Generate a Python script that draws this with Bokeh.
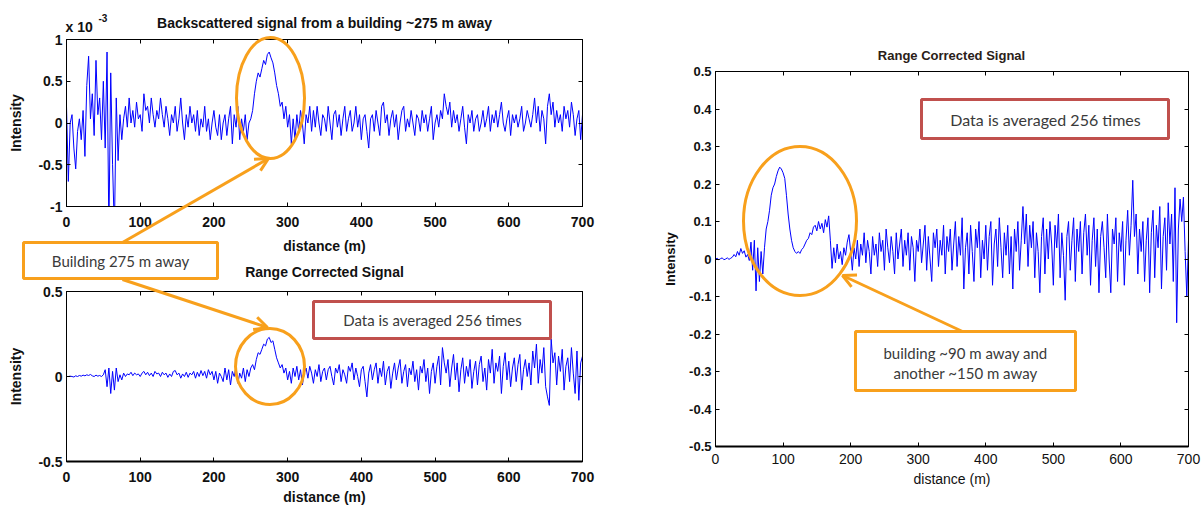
import numpy as np
from bokeh.plotting import figure
from bokeh.models import Range1d, FixedTicker, LinearAxis, Label, BoxAnnotation, Arrow, OpenHead
from bokeh.layouts import row, column
from bokeh.embed import file_html
from bokeh.resources import INLINE

# ---------------- data ----------------
DIST_TICKS = [0, 100, 200, 300, 400, 500, 600, 700]
DIST_TICK_LABELS = ["0", "100", "200", "300", "400", "500", "600", "700"]

BACK_YTICKS = [-1, -0.5, 0, 0.5, 1]
BACK_YTICK_LABELS = ["-1", "-0.5", "0", "0.5", "1"]

RC_YTICKS = [-0.5, 0, 0.5]
RC_YTICK_LABELS = ["-0.5", "0", "0.5"]

RC90_YTICKS = [-0.5, -0.4, -0.3, -0.2, -0.1, 0, 0.1, 0.2, 0.3, 0.4, 0.5]
RC90_YTICK_LABELS = ["-0.5", "-0.4", "-0.3", "-0.2", "-0.1", "0", "0.1", "0.2", "0.3", "0.4", "0.5"]

TITLE_BACKSCATTER = "Backscattered signal from a building ~275 m away"
TITLE_RANGE = "Range Corrected Signal"

# backscattered signal, building ~275 m (units of 1e-3), one sample every 2.5 m from 0 to 700 m
backscatter_e3 = [
    0.2, -0.7, 0.0, 0.1, -0.3, -0.55, -0.1, 0.05, -0.2,
    0.15, -0.4, 0.45, 0.8, 0.05, 0.35, -0.15, 0.75, 0.1, 0.3, -0.2, 0.5, -0.3, 0.85, -1.3, 0.6, -0.5, -1.3, 0.3, -0.45,
    0.1, -0.2, 0.05, 0.2, -0.05, 0.3, 0.0, 0.15, -0.05, 0.25,
    0.05, 0.1, -0.1, 0.35, 0.15, 0.2, 0.0, 0.3, 0.1, -0.05,
    0.15, 0.05, 0.3, 0.1, -0.05, 0.2, 0.05, -0.15, 0.1, 0.0,
    0.2, -0.1, 0.05, 0.3, 0.0, -0.2, 0.1, -0.05, 0.2, 0.0,
    0.1, -0.1, 0.15, -0.15, 0.05, -0.05, 0.2, -0.1, 0.05, -0.2,
    0.0, 0.15, -0.05, -0.15, 0.1, -0.2, 0.0, 0.1, -0.15, 0.05,
    0.2, -0.25, 0.1, -0.05, 0.2, -0.2, 0.05, -0.1, 0.1, -0.2,
    0.0, 0.05, 0.15, 0.35, 0.5, 0.6, 0.55, 0.65, 0.75, 0.7,
    0.82, 0.85, 0.78, 0.72, 0.6, 0.45, 0.35, 0.2, 0.25, 0.05,
    0.2, -0.05, 0.1, -0.25, 0.05, -0.2, 0.1, -0.1, 0.15, 0.0,
    -0.25, 0.1, 0.0, 0.2, -0.1, 0.15, -0.05, 0.2, 0.0, -0.15,
    0.1, 0.05, -0.1, 0.2, 0.0, -0.2, 0.1, 0.15, -0.05, 0.1,
    -0.15, 0.05, 0.2, -0.1, 0.05, 0.15, -0.1, 0.0, 0.2, -0.05,
    0.1, -0.2, 0.05, 0.1, -0.1, -0.3, 0.05, 0.1, -0.1, 0.15,
    0.0, -0.15, 0.2, 0.25, 0.0, 0.1, -0.15, 0.05, 0.15, -0.05,
    0.1, -0.2, 0.0, 0.15, 0.2, -0.1, 0.05, -0.05, 0.15, 0.0,
    -0.15, 0.1, 0.05, -0.1, 0.15, 0.0, 0.1, -0.1, 0.05, 0.2,
    -0.2, 0.0, 0.1, -0.05, 0.15, 0.05, 0.35, 0.2, 0.1, 0.25,
    -0.05, 0.15, 0.0, 0.1, -0.1, 0.05, 0.2, -0.05, -0.25, 0.1,
    0.0, 0.15, -0.1, 0.05, 0.1, -0.1, 0.0, 0.15, -0.05, 0.05,
    0.2, -0.1, 0.1, 0.0, 0.15, -0.05, 0.1, 0.25, 0.0, -0.1,
    0.05, 0.15, -0.15, 0.1, 0.0, 0.1, -0.05, 0.05, 0.2, -0.1,
    0.0, 0.15, 0.05, -0.05, 0.1, 0.3, 0.0, 0.2, -0.1, 0.15,
    0.05, -0.25, 0.2, 0.35, 0.1, 0.25, -0.05, 0.15, 0.0, 0.1,
    -0.1, 0.2, 0.05, 0.15, -0.05, 0.25, 0.1, -0.15, 0.05, 0.15, -0.2, 0.1,
]

# range corrected signal, building ~275 m
range_corrected_275 = [
    0.0, 0.0, 0.002, 0.0, -0.003, 0.004, 0.0, 0.006, 0.002,
    0.008, 0.004, 0.01, 0.006, 0.012, 0.004, 0.0, 0.008, 0.002, 0.006, 0.0, 0.01,
    0.04, -0.06, 0.05, -0.1, 0.03, -0.08, 0.05, -0.03,
    0.01, -0.02, 0.02, 0.0, 0.015, 0.01, 0.025, 0.005, 0.02, 0.01,
    0.015, 0.0, 0.02, 0.03, 0.01, 0.025, 0.005, 0.02, 0.0, 0.03,
    0.015, 0.02, 0.0, 0.025, 0.01, 0.02, -0.005, 0.015, 0.0, 0.03,
    0.035, 0.01, 0.02, -0.01, 0.015, 0.0, 0.025, -0.005, 0.02, 0.01,
    0.03, -0.01, 0.025, 0.0, 0.035, 0.005, 0.03, -0.01, 0.04, 0.01,
    0.03, -0.02, 0.03, -0.04, 0.02, 0.0, -0.03, 0.05, -0.02, 0.04,
    -0.05, 0.03, 0.0, 0.06, -0.04, 0.02, -0.01, 0.05, -0.03, 0.04,
    0.0, 0.05, 0.07, 0.04, 0.1, 0.14, 0.13, 0.16, 0.19, 0.18,
    0.22, 0.23, 0.2, 0.21, 0.16, 0.11, 0.08, 0.05, 0.07, 0.02,
    0.05, -0.02, 0.03, -0.04, 0.05, 0.0, 0.06, -0.02, 0.04, -0.05,
    0.02, 0.05, -0.01, 0.06, 0.02, -0.04, 0.04, 0.0, 0.07, -0.03,
    0.03, 0.05, -0.02, 0.04, 0.06, 0.0, -0.05, 0.05, 0.02, 0.07,
    -0.03, 0.04, 0.01, -0.04, 0.06, 0.03, 0.08, -0.02, 0.05, 0.0,
    -0.06, 0.04, 0.06, -0.03, -0.12, 0.02, 0.07, -0.02, 0.04, 0.08,
    -0.04, 0.05, 0.0, 0.09, -0.05, 0.03, 0.06, -0.07, 0.02, 0.08,
    -0.02, 0.05, 0.1, -0.04, 0.03, 0.07, -0.06, 0.05, 0.01, 0.09,
    -0.03, 0.04, -0.08, 0.06, 0.02, 0.1, -0.03, 0.05, -0.1, 0.03,
    0.08, -0.04, 0.06, 0.12, -0.05, 0.17, 0.08, 0.02, 0.1, -0.06,
    0.05, 0.13, -0.02, 0.08, -0.09, 0.04, 0.11, -0.04, 0.06, 0.0,
    0.1, -0.07, 0.03, 0.09, -0.05, 0.07, 0.12, -0.03, 0.05, -0.08,
    0.1, 0.02, 0.16, -0.04, 0.08, 0.03, 0.12, -0.1, 0.06, 0.14,
    -0.02, 0.09, -0.06, 0.05, 0.11, -0.03, 0.07, 0.13, -0.08, 0.04,
    0.1, 0.0, 0.08, -0.05, 0.15, 0.05, 0.19, -0.04, 0.1, 0.02,
    0.17, -0.06, -0.12, -0.17, 0.22, 0.08, 0.14, -0.05, 0.12, 0.03,
    0.16, -0.08, 0.06, 0.11, -0.03, 0.17, 0.02, -0.1, 0.15, -0.14, 0.08, 0.12,
]

# range corrected signal, buildings ~90 m and ~150 m
range_corrected_90 = [
    0.0, 0.002, -0.002, 0.001, 0.003, -0.002, 0.0, 0.003, -0.001, 0.002, 0.005,
    0.012, 0.006, 0.02, 0.01, 0.028, 0.015, 0.022, 0.005, 0.012, -0.004,
    0.045, -0.03, 0.05, -0.085, 0.03, -0.06, 0.02, -0.04,
    0.03, 0.08, 0.1, 0.13, 0.17, 0.19, 0.2, 0.22, 0.235, 0.245,
    0.24, 0.23, 0.215, 0.17, 0.12, 0.08, 0.05, 0.03, 0.02, 0.015,
    0.02, 0.015, 0.025, 0.03, 0.04, 0.05, 0.055, 0.07, 0.065, 0.085,
    0.09, 0.075, 0.1, 0.08, 0.095, 0.07, 0.105, 0.085, 0.115, 0.05,
    -0.025, 0.03, -0.01, 0.04, 0.0, 0.02, -0.015, 0.03, 0.01, 0.045,
    0.065, 0.02, -0.03, 0.03, 0.0, 0.05, -0.02, 0.04, 0.01, 0.07,
    -0.01, 0.05, 0.02, -0.04, 0.06, 0.01, 0.04, -0.02, 0.07, 0.02,
    0.05, -0.03, 0.08, 0.03, -0.01, 0.06, 0.02, -0.04, 0.07, 0.0,
    0.04, 0.08, -0.02, 0.05, 0.01, 0.07, -0.03, 0.06, 0.03, -0.06,
    0.05, 0.02, 0.08, -0.01, 0.04, 0.09, -0.03, 0.06, 0.0, -0.06,
    0.07, 0.03, 0.08, -0.02, 0.05, 0.01, 0.09, -0.04, 0.06, 0.02,
    0.08, -0.03, 0.04, 0.1, -0.02, 0.06, 0.01, 0.11, -0.08, 0.03,
    0.07, -0.04, 0.09, 0.02, -0.06, 0.08, 0.03, 0.1, -0.05, 0.05,
    0.0, 0.09, -0.03, 0.06, 0.1, -0.07, 0.04, 0.08, -0.02, 0.11,
    0.03, -0.05, 0.07, 0.01, 0.09, -0.04, 0.06, -0.08, 0.08, 0.02,
    0.1, -0.03, 0.05, 0.14, 0.04, 0.12, -0.02, 0.09, 0.03, 0.1,
    -0.05, 0.07, 0.02, -0.09, 0.06, 0.11, -0.04, 0.08, 0.0, 0.1,
    0.04, -0.07, 0.09, 0.03, 0.12, -0.05, 0.07, 0.01, -0.11, 0.06,
    0.1, -0.03, 0.05, 0.11, -0.06, 0.08, 0.02, 0.1, -0.04, 0.07,
    0.12, 0.01, 0.09, -0.07, 0.05, 0.11, -0.02, 0.08, -0.09, 0.06,
    0.1, 0.03, -0.05, 0.12, 0.0, -0.09, 0.08, 0.04, 0.11, -0.06,
    0.07, 0.02, 0.1, -0.07, 0.05, 0.13, 0.01, 0.09, 0.21, 0.06,
    0.12, -0.04, 0.08, 0.02, 0.1, -0.06, 0.05, 0.11, -0.09, 0.07,
    0.13, -0.05, 0.09, 0.03, 0.14, -0.08, 0.06, 0.11, -0.03, 0.15,
    0.04, 0.12, -0.06, 0.19, -0.17, 0.08, 0.16, 0.1, 0.165, 0.02, -0.1, 0.05,
]

MAX_DISTANCE = 700


def sample_distances(values):
    # samples are evenly spaced over 0..700 m
    return np.linspace(0, MAX_DISTANCE, len(values))


# ---------------- styling ----------------
ORANGE = "#f8a01c"
RED = "#c0504d"
BLUE = "#0000ff"
BOX_TXT = "#3a3a3a"
AX_FONT = "Liberation Sans"
BOX_FONT = "Lato"
INK = "#111111"


def lin(p0, p1, d0, d1):
    return lambda p: d0 + (p - p0) * (d1 - d0) / (p1 - p0)


def make_fig(width, height, left, right, top, bottom, xr, yr):
    p = figure(width=width, height=height, x_range=Range1d(*xr), y_range=Range1d(*yr),
               output_backend="svg", toolbar_location=None, title=None,
               min_border_left=left, min_border_right=right,
               min_border_top=top, min_border_bottom=bottom)
    p.grid.visible = False
    p.outline_line_color = "black"
    p.outline_line_width = 1
    p.outline_line_alpha = 1
    p.background_fill_color = "white"
    p.border_fill_color = "white"
    return p


def style_axis(ax, ticks, labels, size, weight, standoff, line_width=1):
    ax.ticker = FixedTicker(ticks=ticks, minor_ticks=[])
    ax.major_label_overrides = dict(zip(ticks, labels))
    ax.major_tick_in = 4
    ax.major_tick_out = 0
    ax.minor_tick_in = 0
    ax.minor_tick_out = 0
    ax.axis_line_color = "black"
    ax.axis_line_width = line_width
    ax.major_tick_line_color = "black"
    ax.major_label_text_font = AX_FONT
    ax.major_label_text_font_size = size
    ax.major_label_text_font_style = weight
    ax.major_label_text_color = INK
    ax.major_label_standoff = standoff


def set_axis_label(ax, text, size, weight, standoff):
    ax.axis_label = text
    ax.axis_label_text_font = AX_FONT
    ax.axis_label_text_font_size = size
    ax.axis_label_text_font_style = weight
    ax.axis_label_text_color = INK
    ax.axis_label_standoff = standoff


def add_mirror_axes(p, xticks, yticks):
    for ticks, place in ((xticks, "above"), (yticks, "right")):
        ax = LinearAxis(ticker=FixedTicker(ticks=ticks, minor_ticks=[]),
                        major_label_overrides={t: "" for t in ticks},
                        major_label_text_font_size="0px", major_label_standoff=0,
                        major_tick_in=4, major_tick_out=0, minor_tick_in=0, minor_tick_out=0,
                        axis_line_color="black", major_tick_line_color="black")
        p.add_layout(ax, place)


def label(p, X, Y, px, py, text, size, font=AX_FONT, style="normal", color=INK, align="center"):
    p.add_layout(Label(x=X(px), y=Y(py), text=text, text_font=font, text_font_size=size,
                       text_font_style=style, text_color=color, text_align=align,
                       text_baseline="middle"))


def box(p, X, Y, l, r, t, b, color):
    p.add_layout(BoxAnnotation(left=X(l), right=X(r), top=Y(t), bottom=Y(b),
                               fill_color="white", fill_alpha=1.0,
                               line_color=color, line_width=3, line_alpha=1.0))


def arrow(p, X, Y, x0, y0, x1, y1):
    p.add_layout(Arrow(end=OpenHead(size=13, line_color=ORANGE, line_width=3),
                       x_start=X(x0), y_start=Y(y0), x_end=X(x1), y_end=Y(y1),
                       line_color=ORANGE, line_width=3))


def ring(p, X, Y, cx, cy, w, h):
    p.ellipse(x=[X(cx)], y=[Y(cy)], width=w, height=h, width_units="screen",
              height_units="screen", fill_color=None, line_color=ORANGE, line_width=3)


# ---------------- panel 1: backscattered signal ----------------
p1 = make_fig(620, 262, 66, 38, 39, 56, (0, 700), (-1, 1))
p1.line(sample_distances(backscatter_e3), backscatter_e3, line_color=BLUE, line_width=1)
style_axis(p1.xaxis[0], DIST_TICKS, DIST_TICK_LABELS, "14px", "bold", 10)
set_axis_label(p1.xaxis[0], "distance (m)", "14px", "bold", 8)
style_axis(p1.yaxis[0], BACK_YTICKS, BACK_YTICK_LABELS, "14px", "bold", 4)
set_axis_label(p1.yaxis[0], "Intensity", "14px", "bold", 11)
add_mirror_axes(p1, DIST_TICKS, BACK_YTICKS)

# ---------------- panel 2: range corrected, 275 m ----------------
p2 = make_fig(620, 246, 66, 38, 29, 47, (0, 700), (-0.5, 0.5))
X2 = lin(66, 582, 0, 700)
Y2 = lin(461, 291, -0.5, 0.5)
p2.line(sample_distances(range_corrected_275), range_corrected_275, line_color=BLUE, line_width=1)
style_axis(p2.xaxis[0], DIST_TICKS, DIST_TICK_LABELS, "14px", "bold", 10, line_width=2)
set_axis_label(p2.xaxis[0], "distance (m)", "14px", "bold", 4)
style_axis(p2.yaxis[0], RC_YTICKS, RC_YTICK_LABELS, "14px", "bold", 4)
set_axis_label(p2.yaxis[0], "Intensity", "14px", "bold", 11)
add_mirror_axes(p2, DIST_TICKS, RC_YTICKS)
ring(p2, X2, Y2, 269.5, 366, 69, 76)
box(p2, X2, Y2, 313, 550, 301, 338, RED)
label(p2, X2, Y2, 432, 319.5, "Data is averaged 256 times", "15px", font=BOX_FONT, color=BOX_TXT)

# ---------------- panel 3: range corrected, 90 m / 150 m ----------------
p3 = make_fig(583, 508, 95, 15, 71, 62, (0, 700), (-0.5, 0.5))
X3 = lin(715, 1188, 0, 700)
Y3 = lin(446, 71, -0.5, 0.5)
p3.line(sample_distances(range_corrected_90), range_corrected_90, line_color=BLUE, line_width=1)
style_axis(p3.xaxis[0], DIST_TICKS, DIST_TICK_LABELS, "14px", "normal", 7, line_width=2)
set_axis_label(p3.xaxis[0], "distance (m)", "14px", "normal", 4)
style_axis(p3.yaxis[0], RC90_YTICKS, RC90_YTICK_LABELS, "13px", "bold", 4)
set_axis_label(p3.yaxis[0], "Intensity", "13px", "bold", 8)
add_mirror_axes(p3, DIST_TICKS, RC90_YTICKS)
ring(p3, X3, Y3, 799.5, 220.5, 113, 149)
arrow(p3, X3, Y3, 962, 331, 842, 275)
box(p3, X3, Y3, 921, 1168, 99, 138, RED)
label(p3, X3, Y3, 1045, 118.5, "Data is averaged 256 times", "16px", font=BOX_FONT, color=BOX_TXT)
box(p3, X3, Y3, 855, 1075, 331, 390, ORANGE)
label(p3, X3, Y3, 965, 352, "building ~90 m away and", "15px", font=BOX_FONT, color=BOX_TXT)
label(p3, X3, Y3, 965, 372, "another ~150 m away", "15px", font=BOX_FONT, color=BOX_TXT)

# ---------------- transparent overlay: titles and call-outs spanning the left panels ----------------
PAGE_W, PAGE_H = 1203, 508
ov = figure(width=PAGE_W, height=PAGE_H, x_range=Range1d(0, PAGE_W), y_range=Range1d(PAGE_H, 0),
            output_backend="svg", toolbar_location=None, title=None,
            x_axis_location=None, y_axis_location=None, min_border=0)
ov.grid.visible = False
ov.outline_line_color = None
ov.background_fill_alpha = 0
ov.border_fill_alpha = 0
ov.styles = {"position": "absolute", "left": "0px", "top": "0px", "z-index": "10",
             "pointer-events": "none"}
PX = lin(0, 1, 0, 1)
label(ov, PX, PX, 324, 22, TITLE_BACKSCATTER, "14px", style="bold")
label(ov, PX, PX, 324, 271, TITLE_RANGE, "14px", style="bold")
label(ov, PX, PX, 951, 55, TITLE_RANGE, "13px", style="bold", color="#2a2018")
label(ov, PX, PX, 65, 26, "x 10", "14px", style="bold", align="left")
label(ov, PX, PX, 98, 17, "-3", "10px", style="bold", align="left")
ring(ov, PX, PX, 270, 97.5, 68, 121)
arrow(ov, PX, PX, 122, 242, 268, 158)
arrow(ov, PX, PX, 122, 279, 267, 327)
box(ov, PX, PX, 23, 217, 242, 278, ORANGE)
label(ov, PX, PX, 120, 260, "Building 275 m away", "15px", font=BOX_FONT, color=BOX_TXT)

layout = row(column(p1, p2), p3)
open("out.html", "w").write(file_html([layout, ov], INLINE))
